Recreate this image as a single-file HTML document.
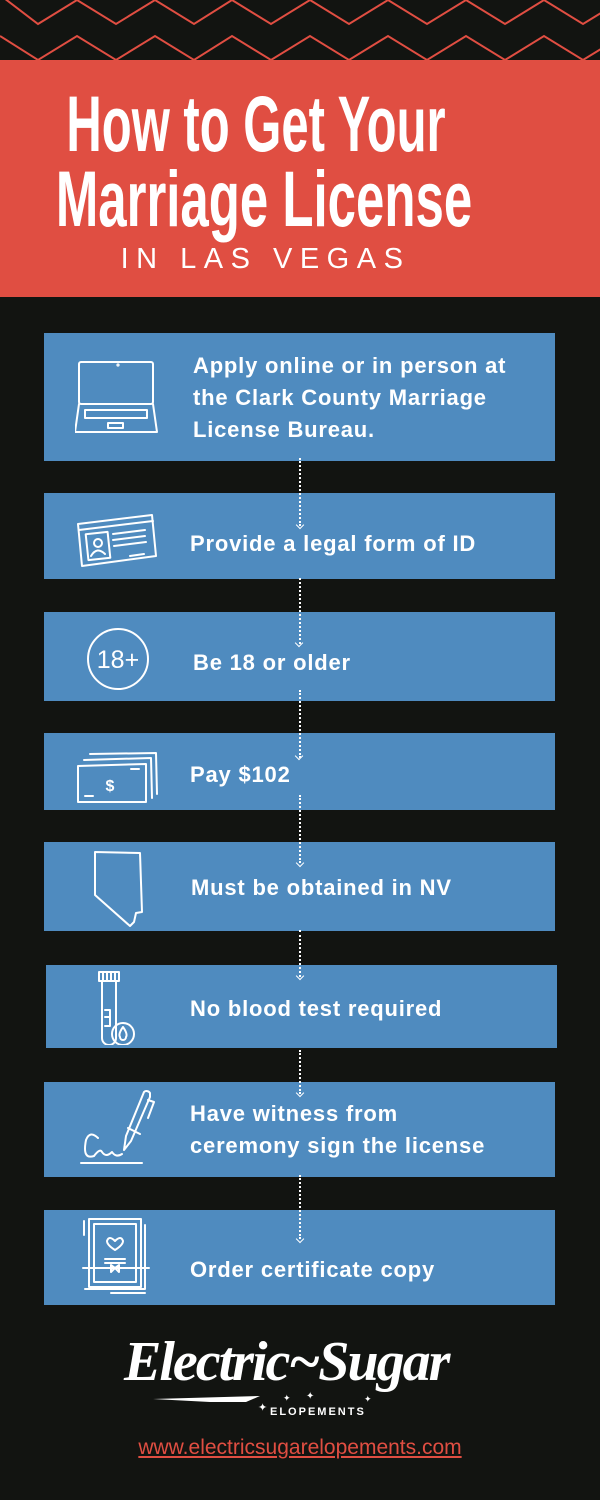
<!DOCTYPE html>
<html><head><meta charset="utf-8"><style>
body{margin:0;background:#121411;width:600px;height:1500px;position:relative;overflow:hidden;font-family:"Liberation Sans",sans-serif}
.a{position:absolute}
.box{position:absolute;left:44px;width:511px;background:#4f8bbf}
.t{position:absolute;color:#fff;font-weight:bold;font-size:22px;letter-spacing:0.8px;line-height:32px;white-space:nowrap}
.dl{position:absolute;left:299px;width:0;border-left:2px dotted #fff}
.ar{position:absolute;width:5px;height:5px;border-right:1.5px solid #fff;border-bottom:1.5px solid #fff;transform:rotate(45deg)}
svg.i{position:absolute;fill:none;stroke:#fff;stroke-width:2;stroke-linejoin:round;stroke-linecap:round}
.ttl{position:absolute;left:-200px;width:1000px;text-align:center;color:#fff;font-family:'Liberation Sans Narrow','Liberation Sans',sans-serif;font-weight:bold;font-size:79px;line-height:75px;transform:scaleX(0.62);transform-origin:center;white-space:nowrap}
</style></head><body>
<svg class="a" style="left:0;top:0" width="600" height="62"><g fill="none" stroke="#e04e42" stroke-width="2">
<polyline points="0,-5 38,24 77,0 116,24 155,0 194,24 232,0 271,24 310,0 349,24 388,0 427,24 466,0 505,24 544,0 583,24 622,0"/>
<polyline points="0,36 38,60 77,36 116,60 155,36 194,60 232,36 271,60 310,36 349,60 388,36 427,60 466,36 505,60 544,36 583,60 622,36"/></g></svg>
<div class="a" style="left:0;top:60px;width:600px;height:237px;background:#e04e42"></div>
<div class="ttl" style="top:86px;margin-left:-44px">How to Get Your</div>
<div class="ttl" style="top:161px;margin-left:-36px;transform:scaleX(0.645)">Marriage License</div>
<div class="a" style="left:-38px;top:243px;width:600px;text-align:center;color:#fff;font-size:29px;letter-spacing:7.5px;padding-left:7px;box-sizing:border-box">IN LAS VEGAS</div>

<div class="box" style="top:333px;height:128px"></div>
<div class="box" style="top:493px;height:86px"></div>
<div class="box" style="top:612px;height:89px"></div>
<div class="box" style="top:733px;height:77px"></div>
<div class="box" style="top:842px;height:89px"></div>
<div class="box" style="top:965px;height:83px;left:46px"></div>
<div class="box" style="top:1082px;height:95px"></div>
<div class="box" style="top:1210px;height:95px"></div>

<div class="dl" style="top:458px;height:68px"></div><div class="ar" style="left:297px;top:522px"></div>
<div class="dl" style="top:578px;height:66px"></div><div class="ar" style="left:296px;top:640px"></div>
<div class="dl" style="top:690px;height:68px"></div><div class="ar" style="left:296px;top:753px"></div>
<div class="dl" style="top:795px;height:68px"></div><div class="ar" style="left:297px;top:860px"></div>
<div class="dl" style="top:930px;height:47px"></div><div class="ar" style="left:297px;top:973px"></div>
<div class="dl" style="top:1050px;height:44px"></div><div class="ar" style="left:297px;top:1090px"></div>
<div class="dl" style="top:1175px;height:64px"></div><div class="ar" style="left:297px;top:1236px"></div>

<div class="t" style="left:193px;top:350px">Apply online or in person at<br>the Clark County Marriage<br>License Bureau.</div>
<div class="t" style="left:190px;top:528px">Provide a legal form of ID</div>
<div class="t" style="left:193px;top:647px">Be 18 or older</div>
<div class="t" style="left:190px;top:759px">Pay $102</div>
<div class="t" style="left:191px;top:872px">Must be obtained in NV</div>
<div class="t" style="left:190px;top:993px">No blood test required</div>
<div class="t" style="left:190px;top:1098px">Have witness from<br>ceremony sign the license</div>
<div class="t" style="left:190px;top:1254px">Order certificate copy</div>

<svg class="i" style="left:75px;top:360px" width="90" height="75"><rect x="4" y="2" width="74" height="42" rx="2"/><path d="M4 44 L0 72 L82 72 L78 44"/><rect x="10" y="50" width="62" height="8"/><rect x="33" y="63" width="15" height="5"/><circle cx="43" cy="5" r="0.6"/></svg>
<svg class="i" style="left:75px;top:512px" width="85" height="60"><path d="M3 12 L77 3 L81 44 L7 54 Z"/><path d="M4 18 L78 9"/><rect x="12" y="21" width="22" height="26" transform="rotate(-6 23 34)"/><circle cx="23" cy="31" r="4"/><path d="M16 44 Q22 34 30 42"/><path d="M38 22 L70 18 M38 28 L70 24 M39 34 L71 30 M55 44 L69 42"/></svg>
<svg class="i" style="left:86px;top:627px" width="66" height="66"><circle cx="32" cy="32" r="30"/><text x="32" y="41" fill="#fff" stroke="none" font-size="25" text-anchor="middle" font-family="Liberation Sans">18+</text></svg>
<svg class="i" style="left:76px;top:750px" width="86" height="56"><path d="M2 16 L70 14 L70 52 L2 52 Z"/><path d="M8 10 L75 8 L76 48 M14 4 L80 3 L81 44"/><path d="M9 46 L17 46 M55 19 L63 19"/><text x="34" y="41" fill="#fff" stroke="none" font-size="16" font-weight="bold" text-anchor="middle">$</text></svg>
<svg class="i" style="left:92px;top:850px" width="56" height="78"><path d="M3 2 L48 3 L50 62 L44 63 L42 72 L38 76 L3 45 Z"/></svg>
<svg class="i" style="left:98px;top:970px" width="50" height="75"><rect x="1" y="2" width="20" height="9"/><path d="M5 2 V11 M9 2 V11 M13 2 V11 M17 2 V11"/><path d="M4 11 V68 A7 7 0 0 0 18 68 V11"/><path d="M7 40 H12 V56 H7 M7 47 H12"/><circle cx="25" cy="64" r="11"/><path d="M25 57 Q20 64 22 67 A3 3 0 0 0 28 67 Q30 64 25 57Z"/></svg>
<svg class="i" style="left:78px;top:1088px" width="80" height="80"><path d="M72 5 A4 4 0 0 0 66 4 L48 48 L46 62 L53 53 L72 9 Z M50 40 L62 46 M70 12 L76 14 L70 30"/><path d="M20 50 Q12 42 8 52 Q4 72 16 68 Q22 60 24 64 Q28 70 34 64 Q38 70 44 66"/><path d="M3 75 H64"/></svg>
<svg class="i" style="left:81px;top:1215px" width="70" height="82"><rect x="8" y="4" width="52" height="68"/><rect x="13" y="9" width="42" height="58"/><path d="M3 6 V20 M4 74 L64 74 L64 10 M30 78 H64"/><path d="M34 26 Q28 20 26 26 Q26 30 34 35 Q42 30 42 26 Q40 20 34 26"/><path d="M24 44 H44 M24 48 H44 M2 53 H68"/><path d="M30 50 L34 53 L38 50 L38 57 L34 53 L30 57Z"/></svg>

<div class="a" style="left:124px;top:1330px;color:#fff;font-family:'Liberation Serif',serif;font-style:italic;font-weight:bold;font-size:56px;letter-spacing:-2px;white-space:nowrap">Electric~Sugar</div>
<svg class="a" style="left:150px;top:1390px" width="150" height="20"><path d="M3 9 L110 6 L96 12 L60 12 Z" fill="#fff"/></svg>
<div class="a" style="left:270px;top:1406px;color:#fff;font-size:11px;font-weight:bold;letter-spacing:2px">ELOPEMENTS</div>
<div class="a" style="left:258px;top:1401px;color:#fff;font-size:11px">✦</div>
<div class="a" style="left:283px;top:1393px;color:#fff;font-size:9px">✦</div>
<div class="a" style="left:306px;top:1391px;color:#fff;font-size:10px">✦</div>
<div class="a" style="left:364px;top:1394px;color:#fff;font-size:9px">✦</div>
<div class="a" style="left:0;top:1436px;width:600px;text-align:center;color:#e04e42;font-size:21px;text-decoration:underline">www.electricsugarelopements.com</div>
</body></html>
